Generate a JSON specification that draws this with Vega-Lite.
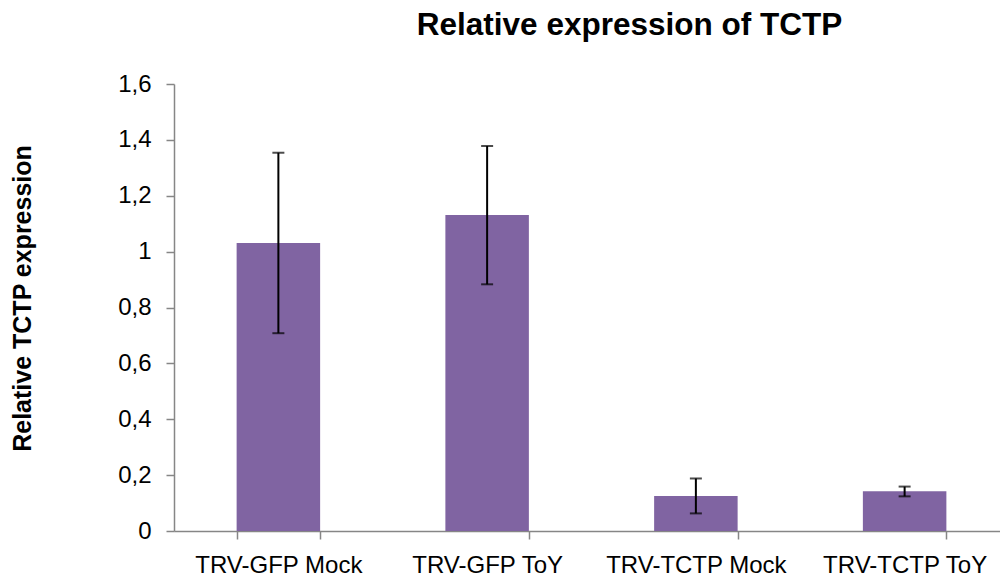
{
  "$schema": "https://vega.github.io/schema/vega-lite/v6.json",
  "autosize": "none",
  "width": 835,
  "height": 447,
  "padding": {"left": 174, "top": 84, "right": 0, "bottom": 45},
  "background": "white",
  "config": {"view": {"stroke": null}, "font": "Liberation Sans"},
  "title": {
    "text": "Relative expression of TCTP",
    "font": "Liberation Sans",
    "fontSize": 31.5,
    "fontWeight": "bold",
    "color": "black",
    "anchor": "middle",
    "frame": "group",
    "offset": 31,
    "dx": 38
  },
  "data": {
    "values": [
      {"group": "TRV-GFP Mock", "value": 1.031, "lo": 0.708, "hi": 1.354},
      {"group": "TRV-GFP ToY", "value": 1.131, "lo": 0.883, "hi": 1.378},
      {"group": "TRV-TCTP Mock", "value": 0.125, "lo": 0.063, "hi": 0.188},
      {"group": "TRV-TCTP ToY", "value": 0.142, "lo": 0.124, "hi": 0.159}
    ]
  },
  "encoding": {
    "x": {
      "field": "group",
      "type": "nominal",
      "sort": null,
      "scale": {"paddingInner": 0.6, "paddingOuter": 0.3},
      "axis": {
        "title": null,
        "labelAngle": 0,
        "labelFont": "Liberation Sans",
        "labelFontSize": 24,
        "labelColor": "black",
        "labelPadding": 14,
        "labelBaseline": "top",
        "labelLimit": 400,
        "tickBand": "extent",
        "tickSize": 8,
        "tickColor": "#868686",
        "domainColor": "#868686",
        "domainWidth": 1.5,
        "tickWidth": 1.5,
        "labelOverlap": false
      }
    }
  },
  "layer": [
    {
      "mark": {"type": "bar", "color": "#8064A2"},
      "encoding": {
        "y": {
          "field": "value",
          "type": "quantitative",
          "scale": {"domain": [0, 1.6], "nice": false},
          "axis": {
            "title": "Relative TCTP expression",
            "titleFont": "Liberation Sans",
            "titleFontSize": 25,
            "titleFontWeight": "bold",
            "titleColor": "black",
            "titleX": -152,
            "titleY": 214,
            "titleBaseline": "middle",
            "titleAngle": -90,
            "values": [0, 0.2, 0.4, 0.6, 0.8, 1, 1.2, 1.4, 1.6],
            "format": ".2~f",
            "labelExpr": "replace(datum.label, '.', ',')",
            "labelFont": "Liberation Sans",
            "labelFontSize": 24,
            "labelColor": "black",
            "labelPadding": 15,
            "grid": false,
            "tickSize": 8,
            "tickColor": "#868686",
            "domainColor": "#868686",
            "domainWidth": 1.5,
            "tickWidth": 1.5
          }
        }
      }
    },
    {
      "mark": {"type": "rule", "color": "black", "strokeWidth": 2},
      "encoding": {
        "y": {"field": "lo", "type": "quantitative"},
        "y2": {"field": "hi"}
      }
    },
    {
      "mark": {"type": "tick", "color": "black", "size": 12, "thickness": 2},
      "encoding": {"y": {"field": "hi", "type": "quantitative"}}
    },
    {
      "mark": {"type": "tick", "color": "black", "size": 12, "thickness": 2},
      "encoding": {"y": {"field": "lo", "type": "quantitative"}}
    }
  ]
}
